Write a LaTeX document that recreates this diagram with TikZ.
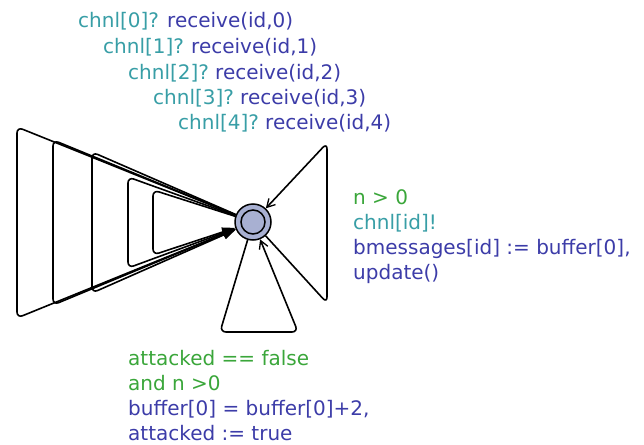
\documentclass[tikz,border=0pt]{standalone}
\usepackage{fontspec}
\setmainfont{DejaVu Sans}
\usetikzlibrary{arrows.meta}
\definecolor{guardc}{RGB}{58,166,58}
\definecolor{syncc}{RGB}{56,158,166}
\definecolor{updc}{RGB}{60,60,168}
\definecolor{locfill}{RGB}{168,176,210}
\begin{document}
\begin{tikzpicture}[x=1pt,y=-1pt,
  font=\fontsize{20}{24}\selectfont,
  loc/.style={circle,draw,line width=1.5pt,fill=locfill,minimum size=36pt,inner sep=0pt},
  urgmark/.style={circle,draw,line width=1.5pt,minimum size=24pt,inner sep=0pt},
  edge/.style={line width=1.6pt,rounded corners=6pt},
  openhead/.style={-{Straight Barb[length=8pt,width=9pt,line width=1.3pt]}},
  fullhead/.style={-{Triangle[length=13pt,width=9pt]}},
  lbl/.style={anchor=base west,inner sep=0pt},
  guard/.style={lbl,text=guardc},
  sync/.style={lbl,text=syncc},
  upd/.style={lbl,text=updc}]
\useasboundingbox (0,0) rectangle (644,444);

% the single location
\node[loc] (s) at (253,222) {};
\node[urgmark] (si) at (s) {};

% nails of the five receiving self-loops
\coordinate (a1) at (17,127);  \coordinate (b1) at (17,318);
\coordinate (a2) at (53,140);  \coordinate (b2) at (53,305);
\coordinate (a3) at (92,152);  \coordinate (b3) at (92,293);
\coordinate (a4) at (128,177); \coordinate (b4) at (128,268);
\coordinate (a5) at (153,190); \coordinate (b5) at (153,255);
\foreach \i in {1,...,5}
  \draw[edge,fullhead] (s) -- (a\i) -- (b\i) -- (s);

% sending self-loop
\coordinate (rb) at (327,303); \coordinate (rt) at (327,143);
\draw[edge,openhead] (s) -- (rb) -- (rt) -- (s);

% attack self-loop
\coordinate (ll) at (220,332); \coordinate (lr) at (298,332);
\draw[edge,openhead] (s) -- (ll) -- (lr) -- (s);

% receive labels
\node[sync] (c0) at (78,28)  {chnl[0]?};  \node[upd] (r0) at (167,28)  {receive(id,0)};
\node[sync] (c1) at (103,53) {chnl[1]?};  \node[upd] (r1) at (191,53)  {receive(id,1)};
\node[sync] (c2) at (128,79) {chnl[2]?};  \node[upd] (r2) at (215,79)  {receive(id,2)};
\node[sync] (c3) at (153,104){chnl[3]?};  \node[upd] (r3) at (240,104) {receive(id,3)};
\node[sync] (c4) at (178,129){chnl[4]?};  \node[upd] (r4) at (265,129) {receive(id,4)};

% send labels
\node[guard] (g1) at (353,204) {n > 0};
\node[sync]  (s1) at (353,229) {chnl[id]!};
\node[upd]   (u1) at (353,254) {bmessages[id] := buffer[0],};
\node[upd]   (u2) at (353,279) {update()};

% attack labels
\node[guard] (g2) at (128,365) {attacked == false};
\node[guard] (g3) at (128,390) {and n >0};
\node[upd]   (u3) at (128,415) {buffer[0] = buffer[0]+2,};
\node[upd]   (u4) at (128,440) {attacked := true};
\end{tikzpicture}
\end{document}
